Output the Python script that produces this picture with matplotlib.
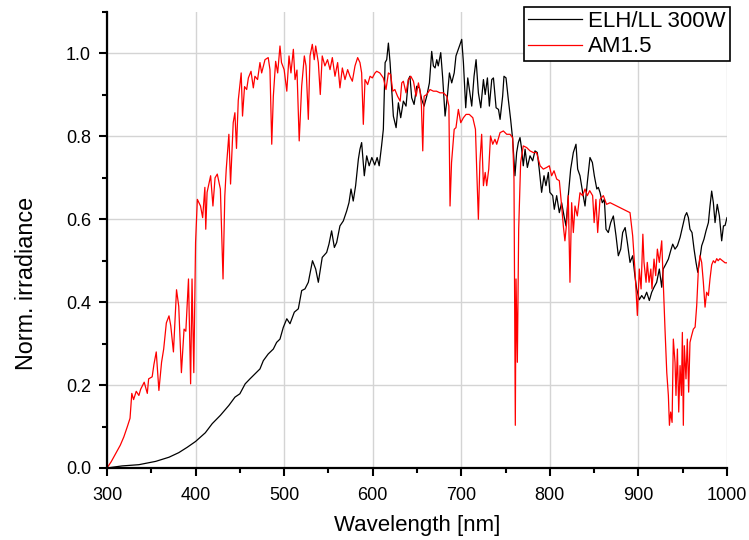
import matplotlib
matplotlib.use("Agg")
import matplotlib.pyplot as plt
from matplotlib.ticker import MultipleLocator
import numpy as np

plt.rcParams['font.family'] = ['Liberation Sans', 'DejaVu Sans']

# ELH/LL 300W lamp spectrum (normalised)
elh_wl = [300, 317, 336, 355, 370, 381, 390.6, 400, 411, 418.8, 428, 437.6, 444.5, 450, 456,
          461.4, 467, 472.7, 476.5, 482, 487.8, 491.5, 495.3, 499, 503, 506.6, 511.5, 516,
          519.8, 523.5, 527.3, 532, 535.6, 538.6, 543, 548, 550.6, 553.6, 556.7, 559.3, 563,
          566.8, 570.6, 573.2, 575.5, 578, 580.7, 583.8, 585.6, 587.5, 590.5, 593.2, 596, 599,
          602.3, 605, 607.3, 610, 612, 614, 615.8, 617.7, 619.6, 621.5, 623.3, 626.4, 629,
          631.6, 634.6, 637.6, 640.3, 642, 644, 646.7, 649.7, 652.7, 655.3, 658, 661, 664,
          666.6, 668.5, 670.4, 672.3, 674, 676.8, 679, 681.7, 684.3, 686.6, 689.2, 692, 694,
          696.7, 698.6, 700.5, 702.4, 705, 707.3, 710, 711.8, 714.4, 716.7, 719.3, 722, 725,
          727, 729.5, 731.7, 734.4, 736.3, 739.3, 742, 743.8, 746.7, 748.2, 750.5, 753.1,
          755.7, 758, 760.6, 762.5, 764.4, 766.3, 768.2, 770, 772, 774.6, 777.6, 780.6, 783.2,
          785.8, 788, 790.7, 793.4, 795.6, 798.3, 800, 803.2, 805, 807.7, 810.7, 813.3, 816,
          818.2, 820.8, 823.5, 826.5, 829.5, 831.4, 834, 837, 839.7, 842.3, 845.3, 848, 850.2,
          853, 854.7, 856.6, 859.2, 861.5, 863.4, 866, 868.7, 871.7, 874.7, 877.3, 880, 882.2,
          885, 887.5, 890.5, 893.5, 896, 898, 901, 903.7, 906.3, 909.3, 912.3, 915, 917.6,
          920.6, 923.6, 926.3, 928, 931, 933.8, 936.4, 938.7, 941.3, 944, 947, 950, 952.6,
          954.5, 956.4, 958.2, 960.5, 962.8, 965, 967, 968.8, 971.4, 974, 976.3, 979, 980.8,
          982.7, 984.6, 986.5, 989, 991.4, 994, 996, 997.8, 1000]
elh_val = [0.0, 0.005, 0.008, 0.016, 0.026, 0.037, 0.05, 0.064, 0.085, 0.107, 0.127, 0.151,
           0.171, 0.179, 0.203, 0.215, 0.227, 0.239, 0.259, 0.275, 0.287, 0.303, 0.311, 0.339,
           0.36, 0.348, 0.376, 0.384, 0.428, 0.432, 0.448, 0.50, 0.48, 0.448, 0.508, 0.52,
           0.54, 0.572, 0.532, 0.544, 0.584, 0.596, 0.62, 0.64, 0.673, 0.644, 0.681, 0.745,
           0.769, 0.785, 0.705, 0.753, 0.729, 0.749, 0.731, 0.749, 0.729, 0.777, 0.817, 0.978,
           0.985, 1.025, 0.978, 0.913, 0.849, 0.821, 0.881, 0.845, 0.885, 0.873, 0.937, 0.945,
           0.893, 0.877, 0.921, 0.917, 0.889, 0.873, 0.897, 0.929, 1.005, 0.97, 0.965, 0.985,
           0.97, 1.002, 0.941, 0.849, 0.897, 0.953, 0.929, 0.953, 0.994, 1.01, 1.022, 1.034,
           0.978, 0.869, 0.941, 0.901, 0.873, 0.945, 0.985, 0.905, 0.869, 0.937, 0.901, 0.941,
           0.873, 0.937, 0.941, 0.869, 0.865, 0.841, 0.897, 0.945, 0.941, 0.889, 0.841, 0.793,
           0.705, 0.761, 0.785, 0.797, 0.769, 0.729, 0.769, 0.725, 0.753, 0.741, 0.765, 0.761,
           0.721, 0.665, 0.705, 0.681, 0.713, 0.665, 0.657, 0.624, 0.657, 0.616, 0.64, 0.608,
           0.584, 0.657, 0.721, 0.761, 0.781, 0.721, 0.705, 0.665, 0.632, 0.689, 0.749, 0.737,
           0.705, 0.673, 0.677, 0.665, 0.64, 0.648, 0.576, 0.568, 0.592, 0.608, 0.56, 0.512,
           0.528, 0.568, 0.58, 0.544, 0.496, 0.512, 0.464, 0.432, 0.406, 0.416, 0.408, 0.424,
           0.404, 0.424, 0.436, 0.448, 0.48, 0.436, 0.48, 0.492, 0.504, 0.524, 0.54, 0.528,
           0.536, 0.556, 0.584, 0.608, 0.616, 0.604, 0.576, 0.568, 0.528, 0.496, 0.472, 0.496,
           0.536, 0.552, 0.572, 0.592, 0.632, 0.668, 0.64, 0.592, 0.636, 0.608, 0.548, 0.584,
           0.585, 0.604]

# AM1.5 solar spectrum (normalised)
am_wl = [300, 304.7, 315, 319, 323, 326, 328, 330, 333, 336, 338, 342, 345.5, 347, 351, 353,
         355.6, 358.6, 361.6, 364, 367, 370, 372, 375, 378.5, 381, 384, 387, 389, 392, 394.4,
         396, 398, 400, 402, 405.6, 408, 410.5, 411.5, 413, 417, 419.6, 422, 424.5, 428, 431,
         433, 434.6, 437.6, 439.5, 442.5, 444.4, 446.2, 448.2, 451.5, 453, 455.3, 457.7,
         459.6, 462.6, 465.2, 467, 470, 472.7, 474.6, 478.4, 482, 484, 486, 487.8, 490.4,
         492.7, 495.3, 497, 500, 503, 505.5, 507.7, 510.4, 512.3, 514.5, 517, 519.8, 522.8,
         524.7, 527.3, 529.2, 531.8, 534, 535.6, 538.6, 540.8, 543, 546, 549, 551.8, 554.4,
         557.4, 560.4, 563, 565.7, 568.7, 571.7, 574.3, 577, 580, 583, 585.6, 587.5, 589.4,
         591.3, 594.3, 597, 599.6, 602.6, 604.5, 608, 612, 615, 617.7, 620.3, 622.6, 625, 628,
         631, 632.8, 634.6, 637.6, 640.3, 643, 646, 649, 651.6, 653.5, 655, 656.5, 658, 661,
         664.7, 668.5, 672, 676, 679.8, 683.6, 686, 687.3, 689, 692, 694, 696.7, 699.4, 702.4,
         705.4, 709, 713, 716, 717.4, 719.3, 721, 723, 725, 727, 728.7, 731, 733, 735.5, 738,
         740, 743.8, 747.5, 751.3, 755, 758, 759.5, 761, 761.8, 763.3, 764.8, 767, 770, 773.8,
         777.6, 781.3, 785, 789, 792.6, 796.4, 799.4, 802, 804.7, 807.7, 810.7, 813.3, 815.2,
         817, 819, 820.8, 822.7, 824.6, 826.5, 828.4, 831, 834, 837, 839.7, 842.3, 845, 848.3,
         850, 852, 854, 856.6, 860.4, 864, 868, 871.7, 875.4, 879.2, 883, 886.7, 890.5, 893.5,
         896, 898.8, 901, 903, 905, 906.3, 908.6, 910, 912, 914, 915.3, 917.6, 919.5, 921.4,
         923.6, 926.3, 928, 930, 932, 933.8, 935, 936.4, 938, 939.4, 941.3, 942.4, 944, 945.5,
         947, 948.5, 949.6, 950.7, 951.8, 953.7, 955.2, 956.7, 958.2, 960, 962, 964, 965.8,
         967.7, 969.5, 971.4, 973.3, 975.2, 977, 979, 980.8, 982.7, 984.6, 986.5, 988.4, 990,
         992, 995, 997.8, 1000]
am_val = [0.0, 0.015, 0.055, 0.075, 0.10, 0.12, 0.18, 0.165, 0.185, 0.175, 0.19, 0.207, 0.18,
          0.215, 0.22, 0.25, 0.28, 0.187, 0.255, 0.287, 0.35, 0.367, 0.343, 0.28, 0.43, 0.39,
          0.23, 0.335, 0.33, 0.456, 0.203, 0.456, 0.23, 0.544, 0.648, 0.632, 0.604, 0.677,
          0.576, 0.665, 0.705, 0.632, 0.70, 0.709, 0.673, 0.456, 0.656, 0.72, 0.805, 0.685,
          0.833, 0.857, 0.771, 0.887, 0.953, 0.849, 0.92, 0.913, 0.941, 0.957, 0.917, 0.945,
          0.937, 0.978, 0.953, 0.985, 0.99, 0.961, 0.781, 0.897, 0.981, 0.953, 1.018, 0.978,
          0.961, 0.909, 0.994, 0.953, 1.01, 0.937, 0.96, 0.789, 0.921, 0.994, 0.97, 0.841,
          0.994, 1.022, 0.985, 1.018, 0.978, 0.901, 0.994, 0.97, 0.985, 0.961, 0.99, 0.945,
          0.978, 0.917, 0.965, 0.937, 0.961, 0.945, 0.933, 0.97, 0.99, 0.978, 0.953, 0.829,
          0.937, 0.925, 0.945, 0.941, 0.953, 0.957, 0.953, 0.941, 0.913, 0.953, 0.949, 0.909,
          0.913, 0.897, 0.885, 0.929, 0.933, 0.905, 0.937, 0.945, 0.933, 0.897, 0.929, 0.909,
          0.873, 0.765, 0.897, 0.901, 0.913, 0.909, 0.909, 0.905, 0.905, 0.897, 0.873, 0.632,
          0.737, 0.817, 0.821, 0.865, 0.833, 0.845, 0.853, 0.853, 0.845, 0.817, 0.721, 0.60,
          0.737, 0.805, 0.681, 0.713, 0.681, 0.721, 0.801, 0.781, 0.793, 0.781, 0.809, 0.813,
          0.805, 0.805, 0.797, 0.697, 0.103, 0.456, 0.255, 0.576, 0.737, 0.777, 0.773, 0.765,
          0.761, 0.761, 0.729, 0.721, 0.725, 0.729, 0.705, 0.717, 0.697, 0.693, 0.632, 0.584,
          0.548, 0.592, 0.657, 0.448, 0.64, 0.568, 0.632, 0.608, 0.664, 0.657, 0.673, 0.657,
          0.669, 0.657, 0.592, 0.648, 0.568, 0.648, 0.657, 0.636, 0.64, 0.636, 0.632, 0.628,
          0.624, 0.62, 0.616, 0.56, 0.48, 0.368, 0.48, 0.432, 0.564, 0.496, 0.448, 0.496, 0.448,
          0.48, 0.432, 0.504, 0.464, 0.528, 0.496, 0.548, 0.448, 0.335, 0.23, 0.175, 0.103,
          0.135, 0.11, 0.311, 0.255, 0.175, 0.287, 0.135, 0.247, 0.175, 0.327, 0.103, 0.295,
          0.215, 0.311, 0.183, 0.303, 0.319, 0.335, 0.34, 0.392, 0.48, 0.512, 0.496, 0.448,
          0.388, 0.424, 0.416, 0.456, 0.49, 0.50, 0.495, 0.505, 0.50, 0.505, 0.50, 0.495, 0.495]

fig = plt.figure(figsize=(7.49, 5.4), dpi=100)
ax = fig.add_axes([107 / 749, 72 / 540, 620 / 749, 456 / 540])

ax.plot(elh_wl, elh_val, color='black', lw=0.9, label='ELH/LL 300W')
ax.plot(am_wl, am_val, color='#ff0000', lw=0.9, label='AM1.5')

ax.set_xlim(300, 1000)
ax.set_ylim(0, 1.1)
ax.xaxis.set_major_locator(MultipleLocator(100))
ax.xaxis.set_minor_locator(MultipleLocator(50))
ax.yaxis.set_major_locator(MultipleLocator(0.2))
ax.yaxis.set_minor_locator(MultipleLocator(0.1))
ax.yaxis.set_major_formatter(plt.FuncFormatter(lambda v, p: f"{v:.1f}"))

ax.grid(True, which='major', color='#d4d4d4', lw=1.0)
ax.set_axisbelow(True)
for s in ['top', 'right']:
    ax.spines[s].set_visible(False)
for s in ['left', 'bottom']:
    ax.spines[s].set_linewidth(1.6)
ax.tick_params(which='major', direction='out', length=6, width=1.5, labelsize=13)
ax.tick_params(which='minor', direction='out', length=3.8, width=1.5)
ax.tick_params(axis='x', which='major', pad=8)
ax.tick_params(axis='y', which='major', pad=5.5)

ax.set_xlabel('Wavelength [nm]', fontsize=16)
ax.set_ylabel('Norm. irradiance', fontsize=16.8)
ax.xaxis.set_label_coords(0.5, (468 - 515) / 456)
ax.yaxis.set_label_coords((38 - 107) / 620, (468 - 283) / 456)

leg = ax.legend(loc='upper right', bbox_to_anchor=(730 / 749, 1 - 7 / 540),
                bbox_transform=fig.transFigure, borderaxespad=0, fontsize=16,
                fancybox=False, edgecolor='black', framealpha=1, handlelength=2.4,
                handletextpad=0.3, labelspacing=0.2, borderpad=0.18)
leg.get_frame().set_linewidth(1.2)

plt.savefig('out.png', dpi=100)
plt.close()
